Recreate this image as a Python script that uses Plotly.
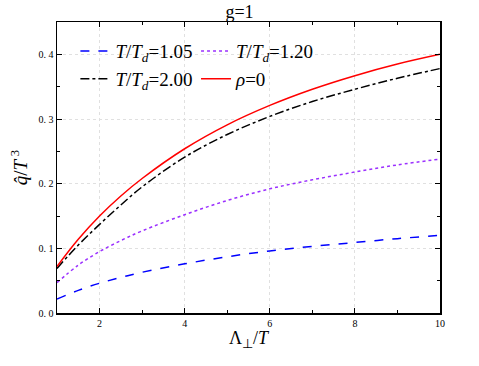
import plotly.graph_objects as go

# Lambda_perp / T
x = [1, 1.5, 2, 2.5, 3, 4, 5, 6, 7, 8, 9, 10]

q_105 = [0.0215, 0.035, 0.046, 0.055, 0.063, 0.076, 0.087, 0.096, 0.103, 0.109, 0.115, 0.120]
q_120 = [0.047, 0.074, 0.095, 0.112, 0.127, 0.152, 0.174, 0.192, 0.206, 0.218, 0.229, 0.238]
q_200 = [0.069, 0.105, 0.137, 0.167, 0.195, 0.241, 0.276, 0.304, 0.327, 0.346, 0.363, 0.378]
q_rho0 = [0.072, 0.114, 0.150, 0.181, 0.208, 0.254, 0.291, 0.321, 0.346, 0.367, 0.385, 0.400]

names = ["<i>T</i>/<i>T</i><sub><i>d</i></sub>=1.05",
         "<i>T</i>/<i>T</i><sub><i>d</i></sub>=1.20",
         "<i>T</i>/<i>T</i><sub><i>d</i></sub>=2.00",
         "<i>ρ</i>=0"]

font = "Liberation Serif"

fig = go.Figure()
fig.add_trace(go.Scatter(x=x, y=q_105, mode="lines", name=names[0], legend="legend",
                         line=dict(color="blue", dash="dash", width=1.5, shape="spline")))
fig.add_trace(go.Scatter(x=x, y=q_200, mode="lines", name=names[2], legend="legend",
                         line=dict(color="black", dash="dashdot", width=1.5, shape="spline")))
fig.add_trace(go.Scatter(x=x, y=q_120, mode="lines", name=names[1], legend="legend2",
                         line=dict(color="#9b30ff", dash="dot", width=1.5, shape="spline")))
fig.add_trace(go.Scatter(x=x, y=q_rho0, mode="lines", name=names[3], legend="legend2",
                         line=dict(color="red", width=1.5, shape="spline")))

axis_common = dict(showline=True, linecolor="black", linewidth=1.5, mirror="allticks",
                   ticks="inside", ticklen=5, tickcolor="black",
                   showgrid=True, gridcolor="#e0e0e0", griddash="dot", gridwidth=1,
                   zeroline=False, automargin=False,
                   tickfont=dict(family=font, size=10, color="black"))

fig.update_xaxes(range=[1, 10], tickvals=[2, 4, 6, 8, 10],
                 minor=dict(tickvals=[3, 5, 7, 9], ticks="inside", ticklen=3, tickcolor="black"),
                 title=dict(text="Λ<sub>⊥</sub>/<i>T</i>", font=dict(family=font, size=18, color="black"),
                            standoff=4),
                 **axis_common)
fig.update_yaxes(range=[0, 0.45], tickvals=[0, 0.1, 0.2, 0.3, 0.4],
                 ticktext=["0. 0", "0. 1", "0. 2", "0. 3", "0. 4"],
                 minor=dict(tickvals=[0.05, 0.15, 0.25, 0.35], ticks="inside", ticklen=3, tickcolor="black"),
                 title=dict(text="<i>q̂</i>/<i>T</i><sup> 3</sup>", font=dict(family=font, size=19, color="black"),
                            standoff=6),
                 **axis_common)

legend_common = dict(bgcolor="rgba(0,0,0,0)", font=dict(family=font, size=19, color="black"),
                     xanchor="left", yanchor="top", tracegroupgap=0, itemwidth=30)

fig.update_layout(
    width=479, height=366,
    margin=dict(l=57, r=39, t=22, b=53),
    paper_bgcolor="white", plot_bgcolor="white",
    title=dict(text="g=1", x=0.5, xanchor="center", y=0.967, yanchor="middle",
               font=dict(family=font, size=18, color="black")),
    legend=dict(x=0.048, y=0.965, **legend_common),
    legend2=dict(x=0.363, y=0.965, **legend_common),
)

# drop the default page margin so the figure sits at the window's corner
fig.write_html("out.html", config={"displayModeBar": False, "staticPlot": True},
               post_script="document.body.style.margin='0px';")
